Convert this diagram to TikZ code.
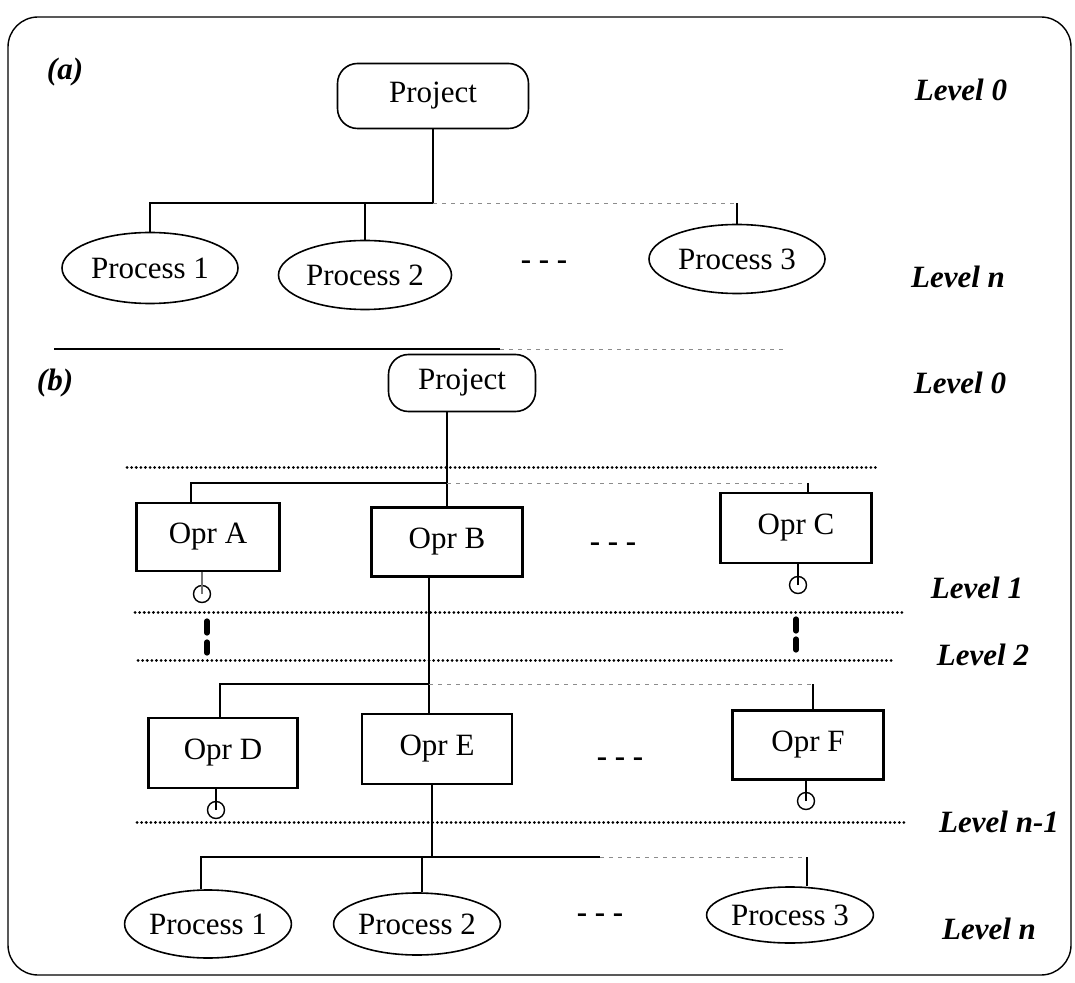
\documentclass[tikz,border=0pt]{standalone}
\usepackage{fontspec}
\setmainfont{Liberation Serif}
\usetikzlibrary{shapes.geometric}
\begin{document}
\begin{tikzpicture}[x=0.5pt,y=-0.5pt,
  every node/.style={font=\fontsize{15.5}{18}\selectfont, inner sep=0pt},
  projbox/.style={draw, rounded corners=10pt, line width=0.8pt},
  oprbox/.style={draw, line width=1.3pt},
  procell/.style={draw, ellipse, line width=0.8pt},
  levellabel/.style={font=\fontsize{15.5}{18}\selectfont\bfseries\itshape},
  ellipsis/.style={font=\fontsize{15.5}{18}\selectfont\bfseries},
  link/.style={line width=0.55pt},
  faint/.style={line width=0.45pt, black!45, dash pattern=on 2pt off 2.5pt},
  levelsep/.style={line width=1.5pt, dash pattern=on 0.01pt off 2.3pt, line cap=round},
  gapmark/.style={line width=2.6pt, line cap=round},
  stopmark/.style={draw, circle, minimum size=8.5pt, line width=0.7pt},
]
\useasboundingbox (0,0) rectangle (1075,983);

% outer frame and separator between the two parts
\draw[line width=0.7pt, rounded corners=15pt] (8,17) rectangle (1071,975);
\coordinate (sepL) at (54,349);
\coordinate (sepM) at (500,349);
\coordinate (sepR) at (783,349);
\draw[link] (sepL) -- (sepM);
\draw[faint] (sepM) -- (sepR);

% ---------------- part (a) ----------------
\node[levellabel] (taga) at (65,72) {(a)};
\node[projbox, minimum width=95.5pt, minimum height=32.5pt] (projA) at (433,96) {Project};
\node[procell, minimum width=88pt, minimum height=35.5pt] (p1a) at (150,268) {Process 1};
\node[procell, minimum width=86.5pt, minimum height=34.5pt] (p2a) at (365,275) {Process 2};
\node[procell, minimum width=88pt, minimum height=34.5pt] (p3a) at (737,259) {Process 3};
\node[ellipsis] (moreA) at (544,265) {- - -};
\node[levellabel] (lva0) at (961,90) {Level 0};
\node[levellabel] (lvan) at (958,277) {Level n};

\coordinate (ja) at (433,203);
\draw[link] (projA.south) -- (ja);
\draw[link] (p1a.north) -- (p1a.north |- ja) -- (ja);
\draw[link] (p2a.north) -- (p2a.north |- ja);
\draw[faint] (ja) -- (ja -| p3a.north);
\draw[link] (p3a.north) -- (p3a.north |- ja);

% ---------------- part (b) ----------------
\node[levellabel] (tagb) at (55,383) {(b)};
\node[projbox, minimum width=73.5pt, minimum height=28.5pt] (projB) at (462,383) {Project};

% level separators
\draw[levelsep] (127,468) -- (880,468);
\draw[levelsep] (135,612) -- (903,612);
\draw[levelsep] (138,660) -- (892,660);
\draw[levelsep] (137,822) -- (907,822);

% first row of operations
\node[oprbox, minimum width=71.5pt, minimum height=34pt] (oprA) at (208,537) {Opr A};
\node[oprbox, minimum width=75.5pt, minimum height=34.5pt] (oprB) at (447,542) {Opr B};
\node[oprbox, minimum width=75.5pt, minimum height=35pt] (oprC) at (796,528) {Opr C};
\node[ellipsis] (moreB1) at (613,547) {- - -};

\coordinate (j1) at (447,483);
\coordinate (stubA) at (191,483);
\coordinate (stubC) at (808,483);
\draw[link] (oprB.north) -- (oprB.north |- projB.south);
\draw[link] (stubA |- oprA.north) -- (stubA) -- (j1);
\draw[faint] (j1) -- (stubC);
\draw[link] (stubC) -- (stubC |- oprC.north);

\node[stopmark] (cA) at (202,594) {};
\node[stopmark] (cC) at (798,585) {};
\draw[link, black!55] (cA.center) -- (cA.center |- oprA.south);
\draw[link] (cC.center) -- (cC.center |- oprC.south);

% skipped intermediate levels
\draw[gapmark] (207,621) -- (207,633);
\draw[gapmark] (207,642) -- (207,653);
\draw[gapmark] (796,619) -- (796,631);
\draw[gapmark] (796,639) -- (796,650);

% second row of operations
\node[oprbox, minimum width=74.5pt, minimum height=35pt] (oprD) at (223,753) {Opr D};
\node[oprbox, minimum width=75pt, minimum height=35pt] (oprE) at (437,749) {Opr E};
\node[oprbox, minimum width=75.5pt, minimum height=34.5pt] (oprF) at (808,745) {Opr F};
\node[ellipsis] (moreB2) at (620,762) {- - -};

\coordinate (stubB) at (429,684);
\coordinate (stubD) at (220,684);
\coordinate (stubF) at (813,684);
\draw[link] (oprB.south -| stubB) -- (oprE.north -| stubB);
\draw[link] (stubD |- oprD.north) -- (stubD) -- (stubB);
\draw[faint] (stubB) -- (stubF);
\draw[link] (stubF) -- (stubF |- oprF.north);

\node[stopmark] (cD) at (216,810) {};
\node[stopmark] (cF) at (806,801) {};
\draw[link] (cD.center) -- (cD.center |- oprD.south);
\draw[link] (cF.center) -- (cF.center |- oprF.south);

% processes
\node[procell, minimum width=80.5pt, minimum height=34pt] (p1b) at (208,924) {Process 1};
\node[procell, minimum width=81.5pt, minimum height=31pt] (p2b) at (417,924) {Process 2};
\node[procell, minimum width=82.5pt, minimum height=28pt] (p3b) at (790,915) {Process 3};
\node[ellipsis] (moreB3) at (600,918) {- - -};

\coordinate (j3) at (432,857);
\coordinate (k3) at (600,857);
\coordinate (stubP1) at (201,857);
\coordinate (stubP2) at (422,857);
\coordinate (stubP3) at (807,857);
\draw[link] (oprE.south -| j3) -- (j3);
\draw[link] (stubP1 |- p1b.north) -- (stubP1) -- (k3);
\draw[link] (stubP2) -- (stubP2 |- p2b.north);
\draw[faint] (k3) -- (stubP3);
\draw[link] (stubP3) -- (stubP3 |- p3b.north);

% level labels
\node[levellabel] (lvb0) at (960,383) {Level 0};
\node[levellabel] (lvb1) at (977,588) {Level 1};
\node[levellabel] (lvb2) at (983,655) {Level 2};
\node[levellabel] (lvbn1) at (999,822) {Level n-1};
\node[levellabel] (lvbn) at (989,929) {Level n};
\end{tikzpicture}
\end{document}
